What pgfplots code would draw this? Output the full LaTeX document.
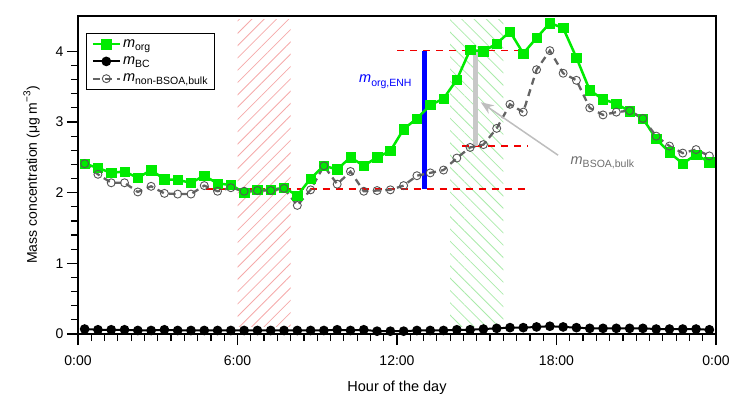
\documentclass[border=0pt]{standalone}
\usepackage{fontspec}
\setmainfont{Liberation Sans}
\usepackage{pgfplots}
\usepackage{pgfplotstable}
\pgfplotsset{compat=1.18}
\usetikzlibrary{patterns.meta,arrows.meta}

\definecolor{morg}{RGB}{0,235,0}
\definecolor{nonline}{RGB}{100,100,100}
\definecolor{nonmark}{RGB}{85,85,85}
\definecolor{redd}{RGB}{240,0,0}
\definecolor{enh}{RGB}{0,0,255}
\definecolor{lgray}{RGB}{200,200,200}
\definecolor{arrowgray}{RGB}{190,190,190}
\definecolor{txtgray}{RGB}{110,110,110}
\definecolor{hatchred}{RGB}{245,170,170}
\definecolor{hatchgreen}{RGB}{170,235,170}

\newcommand{\msub}[2]{\textit{#1}\raisebox{-0.4ex}{\fontsize{10.5}{12}\selectfont #2}}

\pgfplotstableread{
h     org   bc    non
0.25  2.41  0.07  2.41
0.75  2.35  0.06  2.26
1.25  2.28  0.06  2.14
1.75  2.30  0.06  2.14
2.25  2.21  0.05  2.01
2.75  2.32  0.05  2.09
3.25  2.19  0.06  1.99
3.75  2.18  0.05  1.98
4.25  2.14  0.05  1.98
4.75  2.24  0.05  2.10
5.25  2.13  0.05  2.02
5.75  2.11  0.05  2.07
6.25  2.00  0.05  2.02
6.75  2.04  0.05  2.03
7.25  2.04  0.05  2.03
7.75  2.07  0.05  2.06
8.25  1.96  0.05  1.82
8.75  2.20  0.05  2.04
9.25  2.38  0.05  2.38
9.75  2.33  0.06  2.12
10.25 2.50  0.05  2.30
10.75 2.38  0.06  2.02
11.25 2.50  0.04  2.03
11.75 2.59  0.04  2.04
12.25 2.90  0.04  2.10
12.75 3.05  0.05  2.24
13.25 3.24  0.05  2.28
13.75 3.33  0.05  2.32
14.25 3.60  0.06  2.49
14.75 4.02  0.06  2.64
15.25 4.00  0.07  2.68
15.75 4.11  0.08  2.91
16.25 4.28  0.09  3.25
16.75 3.97  0.09  3.14
17.25 4.19  0.10  3.74
17.75 4.40  0.11  4.01
18.25 4.33  0.10  3.69
18.75 3.91  0.09  3.59
19.25 3.45  0.08  3.20
19.75 3.32  0.08  3.10
20.25 3.26  0.08  3.14
20.75 3.15  0.08  3.16
21.25 3.05  0.08  3.05
21.75 2.76  0.07  2.80
22.25 2.57  0.07  2.66
22.75 2.41  0.07  2.56
23.25 2.54  0.07  2.61
23.75 2.43  0.06  2.52
}\datatab

\begin{document}
\begin{tikzpicture}
\path[use as bounding box] (-78pt,-60pt) rectangle (653pt,334pt);
\begin{axis}[
  at={(0pt,0pt)}, anchor=south west,
  scale only axis, width=638pt, height=318pt,
  xmin=0, xmax=24, ymin=0, ymax=4.5,
  xtick={0,6,12,18,24}, xticklabels={0:00,6:00,12:00,18:00,0:00},
  minor x tick num=11,
  ytick={0,1,2,3,4}, minor y tick num=4,
  tick align=outside, tick pos=left,
  major tick length=11pt, minor tick length=7pt,
  axis line style={line width=1.5pt},
  tick style={black, line width=1.2pt},
  font=\fontsize{14}{16}\selectfont,
  tick label style={font=\fontsize{14}{16}\selectfont},
  xticklabel shift=7pt,
  /pgf/number format/assume math mode=true,
  xlabel={Hour of the day},
  xlabel style={font=\fontsize{14.5}{16}\selectfont},
  xlabel shift=9pt,
  ylabel={Mass concentration (μg m\raisebox{0.9ex}{\fontsize{10}{12}\selectfont −3})},
  ylabel style={font=\fontsize{14}{16}\selectfont},
  ylabel shift=9pt,
  legend style={at={(0.0125,0.947)}, anchor=north west, draw=black, line width=1.2pt,
    font=\fontsize{14.5}{16}\selectfont, cells={anchor=west}, row sep=4pt,
    inner xsep=5pt, inner ysep=4pt},
  legend image code/.code={\draw[mark repeat=2,mark phase=2,#1] plot coordinates {(0pt,0pt) (13.5pt,0pt) (27pt,0pt)};},
]
% hatched periods
\addplot[draw=none, pattern={Lines[angle=45,distance=8.7pt,line width=0.8pt]}, pattern color=hatchred, forget plot]
  coordinates {(6,0.1) (8,0.1) (8,4.45) (6,4.45)} -- cycle;
\addplot[draw=none, pattern={Lines[angle=-45,distance=8.7pt,line width=0.8pt]}, pattern color=hatchgreen, forget plot]
  coordinates {(14,0.1) (16,0.1) (16,4.45) (14,4.45)} -- cycle;
% red dashed reference levels
\addplot[redd, line width=1.5pt, dash pattern=on 7pt off 6pt, forget plot] coordinates {(4.8,2.05) (16.8,2.05)};
\addplot[redd, line width=1.5pt, dash pattern=on 7pt off 6pt, forget plot] coordinates {(12.0,4.01) (16.9,4.01)};
\addplot[redd, line width=1.5pt, dash pattern=on 7pt off 6pt, forget plot] coordinates {(14.45,2.66) (16.9,2.66)};
% bars
\addplot[enh, line width=5pt, forget plot] coordinates {(13.05,2.05) (13.05,4.01)};
\addplot[lgray, line width=4.5pt, forget plot] coordinates {(14.95,2.66) (14.95,3.99)};
% series
\addplot[morg, line width=2.5pt, mark=square*, mark size=4.7pt, mark options={fill=morg, draw=morg, line width=0.5pt}]
  table[x=h, y=org] {\datatab};
\addlegendentry{\msub{m}{org}}
\addplot[black, line width=2pt, mark=*, mark size=3.8pt]
  table[x=h, y=bc] {\datatab};
\addlegendentry{\msub{m}{BC}}
\addplot[nonline, line width=2.3pt, dash pattern=on 7pt off 5pt, mark=o, mark size=4pt,
  mark options={solid, draw=nonmark, line width=0.9pt}]
  table[x=h, y=non] {\datatab};
\addlegendentry{\msub{m}{non-BSOA,bulk}}
% arrow
\addplot[arrowgray, line width=1.5pt, -{Stealth[length=13pt,width=10pt]}, forget plot]
  coordinates {(18.06,2.53) (15.15,3.28)};
\node[anchor=east, text=enh, font=\fontsize{14.5}{16}\selectfont] at (axis cs:12.68,3.57) {\msub{m}{org,ENH}};
\node[anchor=west, text=txtgray, font=\fontsize{14.5}{16}\selectfont] at (axis cs:18.4,2.42) {\msub{m}{BSOA,bulk}};
\end{axis}
\end{tikzpicture}
\end{document}
